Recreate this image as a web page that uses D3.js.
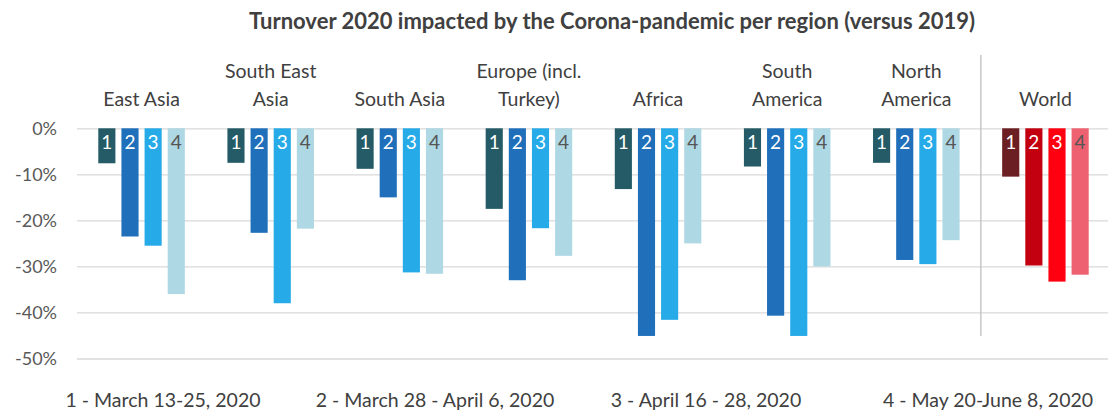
<!DOCTYPE html>
<html>
<head>
<meta charset="utf-8">
<script src="https://cdn.jsdelivr.net/npm/d3@7"></script>
<style>
  body { margin: 0; background: #fff; }
  text { font-family: Lato, "Open Sans", sans-serif; }
</style>
</head>
<body>
<div class="board"></div>
<script>
// regions, one group of 4 bars each
var regions = [
  ['East Asia'],
  ['South East', 'Asia'],
  ['South Asia'],
  ['Europe (incl.', 'Turkey)'],
  ['Africa'],
  ['South', 'America'],
  ['North', 'America'],
  ['World']
];
var periods = ['1', '2', '3', '4'];
var periodLabels = ['1 - March 13-25, 2020', '2 - March 28 - April 6, 2020',
  '3 - April 16 - 28, 2020', '4 - May 20-June 8, 2020'];

// turnover change versus 2019, one array per period
var period1 = [-7.6, -7.5, -8.8, -17.5, -13.2, -8.3, -7.5, -10.5];
var period2 = [-23.5, -22.7, -15.0, -33.0, -45.1, -40.7, -28.6, -29.8];
var period3 = [-25.5, -38.0, -31.3, -21.7, -41.6, -45.1, -29.5, -33.3];
var period4 = [-36.0, -21.8, -31.6, -27.7, -25.0, -30.0, -24.3, -31.8];

var yTicks = [0, -10, -20, -30, -40, -50];

var blues = ['#245b66', '#1f6fba', '#27abe8', '#aed8e4'];
var reds = ['#6b1f22', '#c2000f', '#ff0010', '#ee6170'];
var labelColors = ['#fff', '#fff', '#fff', '#555'];

var W = 1114, H = 414;
var svg = d3.select('.board').append('svg')
  .attr('width', W).attr('height', H);

var x = d3.scaleBand()
  .domain(d3.range(regions.length))
  .range([77, 1110]);

var xi = d3.scaleBand()
  .domain(periods)
  .range([0, x.bandwidth()])
  .paddingInner(0.26)
  .paddingOuter(0.92);

var y = d3.scaleLinear().domain([-50, 0]).range([358.5, 128.3]);

svg.append('text')
  .attr('x', 612).attr('y', 29)
  .attr('text-anchor', 'middle')
  .style('font-size', '22px').style('font-weight', 'bold')
  .style('fill', '#404040')
  .text('Turnover 2020 impacted by the Corona-pandemic per region (versus 2019)');

// gridlines + y labels
var yAxis = d3.axisLeft(y).tickValues(yTicks)
  .tickSize(-(1108 - 77))
  .tickFormat(function (d) { return d + '%'; });
svg.append('g')
  .attr('transform', 'translate(77,0)')
  .call(yAxis)
  .call(function (g) {
    g.select('.domain').remove();
    g.selectAll('line').attr('stroke', '#d9d9d9').attr('stroke-width', 1.3);
    g.selectAll('text').attr('x', -20).attr('dy', '0.35em')
      .style('font-size', '18px').style('fill', '#595959');
  });

// separator before World
svg.append('line')
  .attr('x1', x(7)).attr('x2', x(7))
  .attr('y1', 55).attr('y2', 336)
  .attr('stroke', '#bfbfbf').attr('stroke-width', 1.3);

// region labels
var rl = svg.append('g').selectAll('text')
  .data(regions)
  .enter()
  .append('text')
  .attr('text-anchor', 'middle')
  .attr('x', function (d, i) { return x(i) + x.bandwidth() / 2; })
  .attr('y', 106)
  .style('font-size', '19.5px').style('fill', '#404040');
rl.selectAll('tspan')
  .data(function (d) { return d; })
  .enter()
  .append('tspan')
  .attr('x', function () { return d3.select(this.parentNode).attr('x'); })
  .attr('dy', function (d, j, arr) { return j === 0 ? -(arr.length - 1) * 28 : 28; })
  .text(function (d) { return d; });

// bars
var cells = [];
var all = [period1, period2, period3, period4];
regions.forEach(function (r, i) {
  periods.forEach(function (p, k) {
    cells.push({ region: i, period: k, value: all[k][i] });
  });
});

var bar = svg.append('g').selectAll('g')
  .data(cells)
  .enter()
  .append('g')
  .attr('transform', function (d) {
    return 'translate(' + (x(d.region) + xi(periods[d.period])) + ',0)';
  });

bar.append('rect')
  .attr('y', y(0))
  .attr('width', xi.bandwidth())
  .attr('height', function (d) { return y(d.value) - y(0); })
  .style('fill', function (d) { return d.region === 7 ? reds[d.period] : blues[d.period]; });

bar.append('text')
  .attr('x', xi.bandwidth() / 2)
  .attr('y', y(0) + 20.5)
  .attr('text-anchor', 'middle')
  .style('font-size', '19px')
  .style('fill', function (d) { return labelColors[d.period]; })
  .text(function (d) { return periods[d.period]; });

// period legend at the bottom
var legendX = [163, 435, 706, 988];
svg.append('g').selectAll('text')
  .data(periodLabels)
  .enter()
  .append('text')
  .attr('x', function (d, i) { return legendX[i]; })
  .attr('y', 407)
  .attr('text-anchor', 'middle')
  .style('font-size', '19.5px').style('fill', '#404040')
  .text(function (d) { return d; });
</script>
</body>
</html>
